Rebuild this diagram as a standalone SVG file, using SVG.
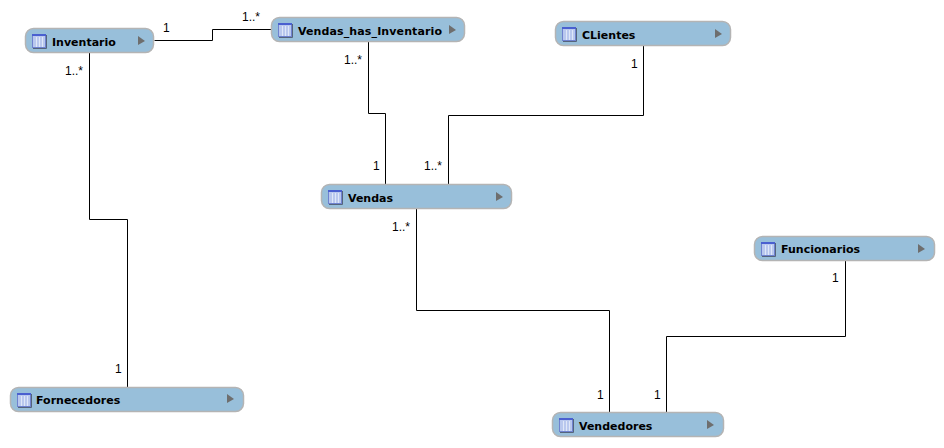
<svg xmlns="http://www.w3.org/2000/svg" width="944" height="448" viewBox="0 0 944 448">
<style>
.box{fill:#98bfda;stroke:#b4b4b4;stroke-width:1.5}
.ic{fill:#b9c8ee;stroke:#6f82cf;stroke-width:1}
.ict{fill:#4a60d0}
.icl{stroke:#dfe7f8;stroke-width:1;fill:none}
.ics{fill:none;stroke:#55647c;stroke-width:1}
.tri{fill:#6e6e6e}
.t{font:bold 11px "DejaVu Sans",sans-serif;fill:#000}
.l{font:12px "Liberation Sans",Arial,sans-serif;fill:#000}
.c{fill:none;stroke:#000;stroke-width:1}
</style>
<defs>
<g id="icon"><path class="ics" d="M1 14.500H14.500V1"/><rect class="ic" x="0.500" y="0.500" width="13" height="13"/><rect class="ict" x="0" y="0" width="14" height="2"/><path class="icl" d="M4.500 3V13M7.500 3V13M10.500 3V13"/></g>
</defs>
<rect width="944" height="448" fill="#fff"/>
<g id="connectors">
<path class="c" d="M154.500 40.500H212.500V29.500H272"/>
<path class="c" d="M89.500 53V219.500H127.500V387"/>
<path class="c" d="M368.500 42V113.500H385.500V184"/>
<path class="c" d="M643.500 46V115.500H448.500V184"/>
<path class="c" d="M416.500 209V310.500H609.500V412"/>
<path class="c" d="M845.500 261V336.500H666.500V412"/>
</g>
<g id="labels">
<text class="l" x="163" y="32">1</text><text class="l" x="242" y="21">1..*</text>
<text class="l" x="65" y="75">1..*</text><text class="l" x="115" y="373">1</text>
<text class="l" x="344" y="64">1..*</text><text class="l" x="373" y="170">1</text>
<text class="l" x="631" y="68">1</text><text class="l" x="424" y="170">1..*</text>
<text class="l" x="392" y="231">1..*</text><text class="l" x="597" y="399">1</text>
<text class="l" x="832" y="282">1</text><text class="l" x="654" y="399">1</text>
</g>
<g id="Inventario"><rect class="box" x="25.500" y="28.500" width="128" height="24" rx="8"/><use href="#icon" x="32" y="34"/><text class="t" x="52" y="46">Inventario</text><path class="tri" d="M138 36L145 41L138 45Z"/></g>
<g id="Vendas_has_Inventario"><rect class="box" x="271.500" y="17.500" width="193" height="24" rx="8"/><use href="#icon" x="278" y="23"/><text class="t" x="298" y="35" textLength="144">Vendas_has_Inventario</text><path class="tri" d="M449 25L456 30L449 34Z"/></g>
<g id="CLientes"><rect class="box" x="555.500" y="21.500" width="175" height="24" rx="8"/><use href="#icon" x="562" y="27"/><text class="t" x="582" y="39">CLientes</text><path class="tri" d="M715 29L722 34L715 38Z"/></g>
<g id="Vendas"><rect class="box" x="321.500" y="184.500" width="190" height="24" rx="8"/><use href="#icon" x="328" y="190"/><text class="t" x="348" y="202">Vendas</text><path class="tri" d="M496 192L503 197L496 201Z"/></g>
<g id="Funcionarios"><rect class="box" x="754.500" y="236.500" width="180" height="24" rx="8"/><use href="#icon" x="761" y="242"/><text class="t" x="781" y="253">Funcionarios</text><path class="tri" d="M918 244L925 249L918 253Z"/></g>
<g id="Fornecedores"><rect class="box" x="10.500" y="387.500" width="233" height="24" rx="8"/><use href="#icon" x="17" y="393"/><text class="t" x="36" y="404">Fornecedores</text><path class="tri" d="M227 394L234 399L227 403Z"/></g>
<g id="Vendedores"><rect class="box" x="552.500" y="412.500" width="171" height="24" rx="8"/><use href="#icon" x="559" y="418"/><text class="t" x="579" y="430">Vendedores</text><path class="tri" d="M707 420L714 425L707 429Z"/></g>
</svg>
